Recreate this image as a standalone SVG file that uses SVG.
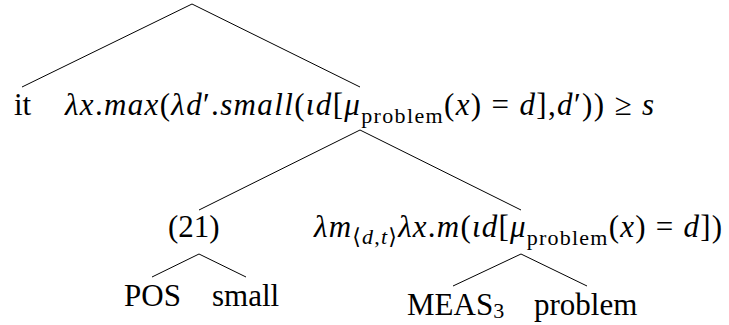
<svg xmlns="http://www.w3.org/2000/svg" width="729" height="325" viewBox="0 0 729 325">
<style>
text{font-family:"Liberation Serif","DejaVu Serif",serif;font-size:31px;fill:#000}
.i{font-style:italic}
.sub{font-size:22px;font-style:normal}
.edge{stroke:#000;stroke-width:1;fill:none}
</style>
<rect width="729" height="325" fill="#fff"/>
<g id="connectors">
<line class="edge" x1="192" y1="4" x2="22" y2="87"/>
<line class="edge" x1="192" y1="4" x2="360" y2="87"/>
<line class="edge" x1="360" y1="130" x2="199" y2="210"/>
<line class="edge" x1="360" y1="130" x2="521" y2="210"/>
<line class="edge" x1="199" y1="254" x2="152" y2="277"/>
<line class="edge" x1="199" y1="254" x2="246" y2="277"/>
<line class="edge" x1="521" y1="254" x2="453" y2="286"/>
<line class="edge" x1="521" y1="254" x2="587" y2="286"/>
</g>
<g id="node-it"><text x="14" y="115">it</text></g>
<g id="node-vp"><text x="65" y="115" textLength="589"><tspan class="i">λx</tspan>.<tspan class="i">max</tspan>(<tspan class="i">λd</tspan>′.<tspan class="i">small</tspan>(<tspan class="i">ιd</tspan>[<tspan class="i">μ</tspan><tspan class="sub" dy="8">problem</tspan><tspan dy="-8">(</tspan><tspan class="i">x</tspan>) = <tspan class="i">d</tspan>],<tspan class="i">d</tspan>′)) ≥ <tspan class="i">s</tspan></text></g>
<g id="node-21"><text x="168" y="237">(21)</text></g>
<g id="node-meas"><text x="314" y="237" textLength="408"><tspan class="i">λm</tspan><tspan class="sub" dy="7">⟨<tspan class="i">d</tspan>,<tspan class="i">t</tspan>⟩</tspan><tspan class="i" dy="-7">λx</tspan>.<tspan class="i">m</tspan>(<tspan class="i">ιd</tspan>[<tspan class="i">μ</tspan><tspan class="sub" dy="8">problem</tspan><tspan dy="-8">(</tspan><tspan class="i">x</tspan>) = <tspan class="i">d</tspan>])</text></g>
<g id="node-pos"><text x="124" y="306">POS</text></g>
<g id="node-small"><text x="212" y="306">small</text></g>
<g id="node-meas3"><text x="407" y="315">MEAS<tspan class="sub" dy="3">3</tspan></text></g>
<g id="node-problem"><text x="534" y="315">problem</text></g>
</svg>
